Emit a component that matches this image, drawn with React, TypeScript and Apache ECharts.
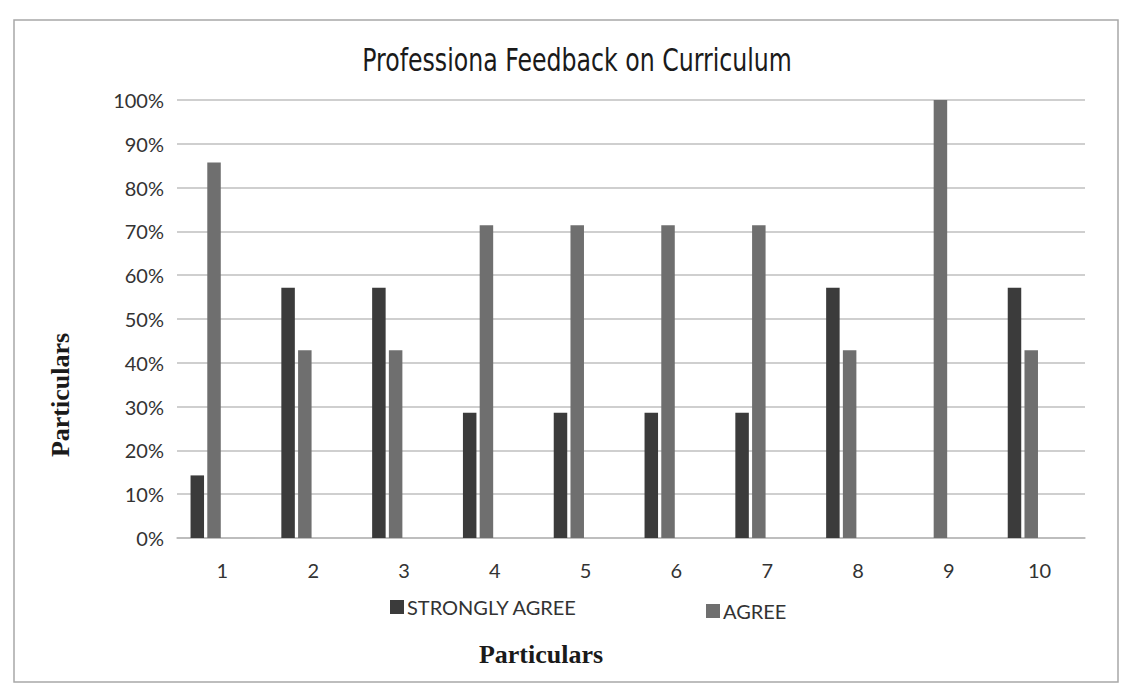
import React, { useEffect, useRef } from "react";
import * as echarts from "echarts";

const categories = ["1", "2", "3", "4", "5", "6", "7", "8", "9", "10"];
const stronglyAgree = [14.29, 57.14, 57.14, 28.57, 28.57, 28.57, 28.57, 57.14, 0, 57.14];
const agree = [85.71, 42.86, 42.86, 71.43, 71.43, 71.43, 71.43, 42.86, 100, 42.86];
// two empty series of the original workbook (all zero) that keep the bars left of the category centre
const emptySeriesA = [0, 0, 0, 0, 0, 0, 0, 0, 0, 0];
const emptySeriesB = [0, 0, 0, 0, 0, 0, 0, 0, 0, 0];
const titleText = "Professiona Feedback on Curriculum";
const axisNameText = "Particulars";

function measure(text: string, font: string): number {
  const c = document.createElement("canvas");
  const ctx = c.getContext("2d");
  if (!ctx) return 500;
  ctx.font = font;
  return ctx.measureText(text).width;
}

export default function App() {
  const ref = useRef<HTMLDivElement>(null);
  useEffect(() => {
    if (!ref.current) return;
    const chart = echarts.init(ref.current, undefined, { renderer: "svg" });
    const titleFont = "32px 'DejaVu Sans'";
    const tw = measure(titleText, titleFont);
    const titleScale = 430 / tw;
    const labelFont = "Lato";
    const barCommon = { type: "bar" as const, barWidth: 13.5, barGap: "24%" };
    chart.setOption({
      animation: false,
      backgroundColor: "#ffffff",
      grid: { left: 177, right: 45, top: 100, height: 438, containLabel: false },
      xAxis: {
        type: "category",
        data: categories,
        axisTick: { show: false },
        axisLine: { show: true, lineStyle: { color: "#b8b8b8", width: 1.5 } },
        axisLabel: { fontFamily: labelFont, fontSize: 20, color: "#333", margin: 22 },
      },
      yAxis: {
        type: "value",
        min: 0,
        max: 100,
        interval: 10,
        axisLine: { show: false },
        axisTick: { show: false },
        splitLine: { lineStyle: { color: "#bfbfbf", width: 1.5 } },
        axisLabel: {
          formatter: (v: number) => `${v}%`,
          fontFamily: labelFont,
          fontSize: 20,
          color: "#333",
          margin: 13,
        },
      },
      legend: [
        {
          data: ["STRONGLY AGREE"],
          left: 385,
          top: 592,
          icon: "rect",
          itemWidth: 14,
          itemHeight: 14,
          itemGap: 5,
          textStyle: { fontFamily: labelFont, fontSize: 20, color: "#333", padding: [0, 0, 0, -2] },
        },
        {
          data: ["AGREE"],
          left: 701,
          top: 596,
          icon: "rect",
          itemWidth: 14,
          itemHeight: 14,
          itemGap: 5,
          textStyle: { fontFamily: labelFont, fontSize: 20, color: "#333", padding: [0, 0, 0, -2] },
        },
      ],
      series: [
        { ...barCommon, name: "STRONGLY AGREE", data: stronglyAgree, itemStyle: { color: "#3b3b3b" } },
        { ...barCommon, name: "AGREE", data: agree, itemStyle: { color: "#6f6f6f" } },
        { ...barCommon, name: "s3", data: emptySeriesA, itemStyle: { color: "#999999" } },
        { ...barCommon, name: "s4", data: emptySeriesB, itemStyle: { color: "#aaaaaa" } },
      ],
      graphic: [
        {
          type: "rect",
          shape: { x: 14, y: 20, width: 1104, height: 662 },
          style: { fill: "none", stroke: "#a8a8a8", lineWidth: 1.5 },
          silent: true,
          z: -1,
        },
        {
          type: "text",
          x: 577,
          y: 60,
          scaleX: titleScale,
          style: {
            text: titleText,
            font: titleFont,
            fill: "#1a1a1a",
            align: "center",
            verticalAlign: "middle",
          },
        },
        {
          type: "text",
          x: 60,
          y: 395,
          rotation: Math.PI / 2,
          style: {
            text: axisNameText,
            font: "bold 26px 'Liberation Serif'",
            fill: "#1a1a1a",
            align: "center",
            verticalAlign: "middle",
          },
        },
        {
          type: "text",
          x: 541,
          y: 654,
          style: {
            text: axisNameText,
            font: "bold 26px 'Liberation Serif'",
            fill: "#1a1a1a",
            align: "center",
            verticalAlign: "middle",
          },
        },
      ],
    });
    return () => chart.dispose();
  }, []);
  return <div ref={ref} style={{ width: 1130, height: 700, margin: -8 }} />;
}
